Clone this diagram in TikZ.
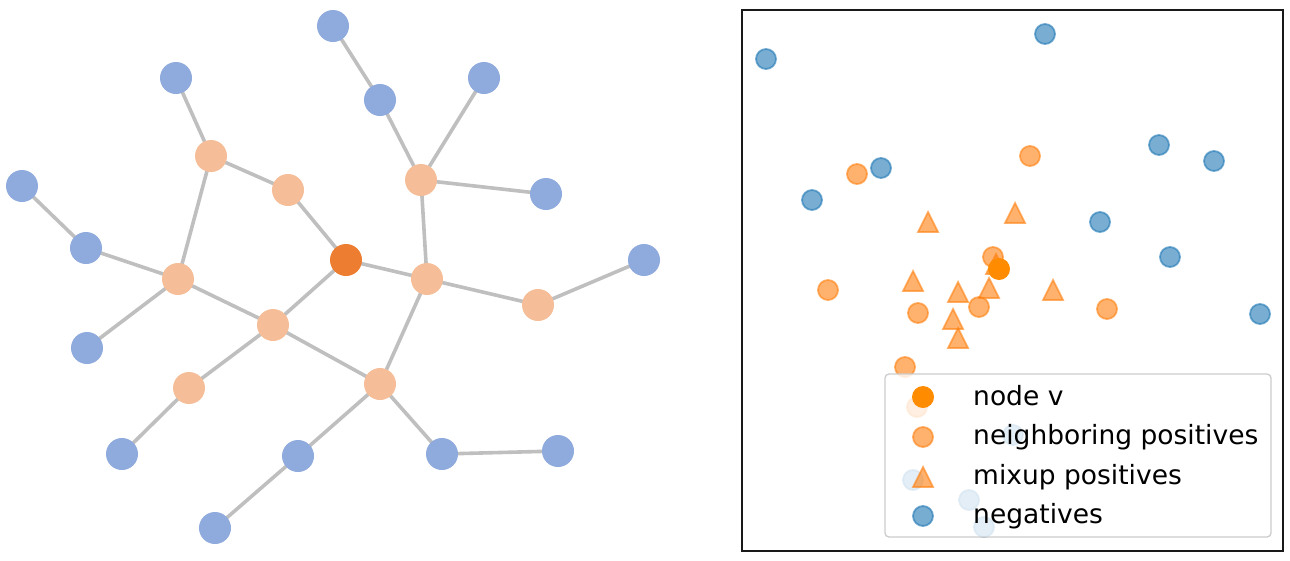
\documentclass[tikz,border=0pt]{standalone}
\usepackage{fontspec}
\setmainfont{DejaVu Sans}
\definecolor{gblue}{HTML}{8FAADC}
\definecolor{gpeach}{HTML}{F5BE98}
\definecolor{gorange}{HTML}{ED7D31}
\definecolor{gedge}{HTML}{BFBFBF}
\definecolor{tabblue}{RGB}{31,119,180}
\definecolor{taborange}{RGB}{255,127,14}
\definecolor{dorange}{RGB}{255,140,0}
\begin{document}
\begin{tikzpicture}[x=1pt,y=-1pt,
  gnode/.style={circle,minimum size=32pt,inner sep=0pt},
  gline/.style={draw=gedge,line width=3.6pt},
  negmark/.style={fill=tabblue,draw=tabblue,fill opacity=0.6,draw opacity=0.6,line width=1.8pt},
  posmark/.style={fill=taborange,draw=taborange,fill opacity=0.6,draw opacity=0.6,line width=1.8pt},
  vmark/.style={fill=dorange},
  legtext/.style={anchor=base west,inner sep=0pt,font=\fontsize{26.5}{30}\selectfont}
]
\useasboundingbox (0,0) rectangle (1290,560);
% ---------- graph ----------
\node[gnode] (b1) at (333,26) {};
\node[gnode] (b2) at (176,78) {};
\node[gnode] (b3) at (484,78) {};
\node[gnode] (b4) at (380,100) {};
\node[gnode] (b5) at (22,186) {};
\node[gnode] (b6) at (546,194) {};
\node[gnode] (b7) at (86,248) {};
\node[gnode] (b8) at (644,260) {};
\node[gnode] (b9) at (87,348) {};
\node[gnode] (b10) at (122,454) {};
\node[gnode] (b11) at (298,456) {};
\node[gnode] (b12) at (442,454) {};
\node[gnode] (b13) at (558,451) {};
\node[gnode] (b14) at (215,528) {};
\node[gnode] (p1) at (211,156) {};
\node[gnode] (p2) at (288,190) {};
\node[gnode] (p3) at (421,180) {};
\node[gnode] (p4) at (178,279) {};
\node[gnode] (p5) at (427,279) {};
\node[gnode] (p6) at (538,305) {};
\node[gnode] (p7) at (273,325) {};
\node[gnode] (p8) at (189,388) {};
\node[gnode] (p9) at (380,384) {};
\node[gnode] (v) at (346,260) {};
\foreach \a/\b in {b1/b4,b4/p3,b3/p3,p3/b6,p3/p5,p5/v,v/p2,p2/p1,p1/b2,p1/p4,b5/b7,b7/p4,p4/b9,p4/p7,p7/v,p7/p8,p8/b10,p7/p9,p9/p5,p5/p6,p6/b8,p9/b11,b11/b14,p9/b12,b12/b13}
  \draw[gline] (\a.center) -- (\b.center);
\foreach \n in {b1,b2,b3,b4,b5,b6,b7,b8,b9,b10,b11,b12,b13,b14}
  \fill[gblue] (\n.center) circle (16);
\foreach \n in {p1,p2,p3,p4,p5,p6,p7,p8,p9}
  \fill[gpeach] (\n.center) circle (16);
\fill[gorange] (v.center) circle (16);
% ---------- scatter ----------
\draw[line width=1.8pt,black!90] (742,10) rectangle (1283,551);
\foreach \x/\y in {766/59,1045/34,881/168,812/200,1159/145,1214/161,1100/222,1170/257,1260/314,1013/435,913/480,969/500,984/527}
  \draw[negmark] (\x,\y) circle (10);
\foreach \x/\y in {857/174,1030/156,993/257,828/290,918/313,979/307,1107/309,905/367,917/407}
  \draw[posmark] (\x,\y) circle (10);
\foreach \x/\y in {928/222,1015/213,996/264,913/281,958/292,989/288,1053/290,953/319,958/338}
  \draw[posmark,line join=miter] (\x,\y) ++(0,-10) -- ++(10,20) -- ++(-20,0) -- cycle;
\fill[vmark] (999,269) circle (11);
% legend
\draw[draw=black!20,fill=white,fill opacity=0.8,rounded corners=4pt,line width=1.3pt] (885,374) rectangle (1271,537);
\fill[vmark] (923,397) circle (11);
\draw[posmark] (923,437) circle (10);
\draw[posmark,line join=miter] (923,477) ++(0,-10) -- ++(10,20) -- ++(-20,0) -- cycle;
\draw[negmark] (923,516) circle (10);
\node[legtext] (t1) at (973,405) {node v};
\node[legtext] (t2) at (973,444.5) {neighboring positives};
\node[legtext] (t3) at (973,484) {mixup positives};
\node[legtext] (t4) at (973,523) {negatives};
\end{tikzpicture}
\end{document}
